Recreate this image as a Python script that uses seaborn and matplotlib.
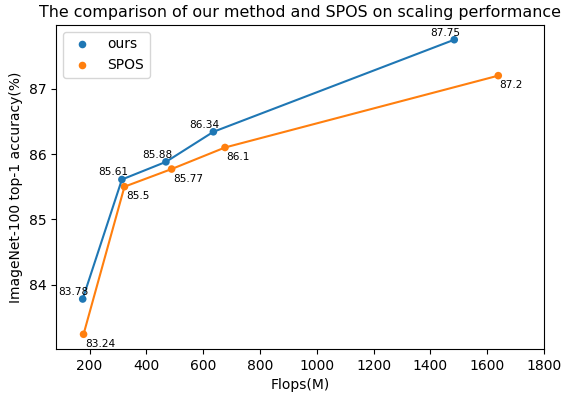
import pandas as pd
import matplotlib
matplotlib.use("Agg")
import matplotlib.pyplot as plt
import seaborn as sns

# values
ours_flops = [176, 314, 469, 636, 1484]
ours_acc = [83.78, 85.61, 85.88, 86.34, 87.75]
spos_flops = [179, 323, 489, 677, 1639]
spos_acc = [83.24, 85.5, 85.77, 86.1, 87.2]
methods = ["ours", "SPOS"]

df = pd.DataFrame({
    "Flops": ours_flops + spos_flops,
    "Acc": ours_acc + spos_acc,
    "Method": [methods[0]] * len(ours_flops) + [methods[1]] * len(spos_flops),
})

fig, ax = plt.subplots(figsize=(5.61, 3.93), dpi=100)
fig.subplots_adjust(left=56 / 561, right=544 / 561, top=1 - 25 / 393, bottom=1 - 349 / 393)

palette = ["#1f77b4", "#ff7f0e"]
sns.lineplot(data=df, x="Flops", y="Acc", hue="Method", palette=palette,
             legend=False, ax=ax, linewidth=1.5)
sns.scatterplot(data=df, x="Flops", y="Acc", hue="Method", palette=palette,
                s=30, linewidth=0, ax=ax)

# value labels: ours above-left, SPOS below-right
for x, y in zip(ours_flops, ours_acc):
    ax.annotate(f"{y}", (x, y), xytext=(-6.5, 3), textcoords="offset points",
                ha="center", va="baseline", fontsize=7.6)
for x, y in zip(spos_flops, spos_acc):
    ax.annotate(f"{y}", (x, y), xytext=(1, -9), textcoords="offset points",
                ha="left", va="baseline", fontsize=7.6)

ax.set_xlim(82, 1800)
ax.set_xticks(range(200, 1801, 200))
ax.set_yticks([84, 85, 86, 87])
ax.set_xlabel("Flops(M)")
ax.set_ylabel("ImageNet-100 top-1 accuracy(%)")
ax.set_title("The comparison of our method and SPOS on scaling performance", fontsize=11.4)
ax.legend(loc="upper left")

fig.savefig("out.png", dpi=100)
